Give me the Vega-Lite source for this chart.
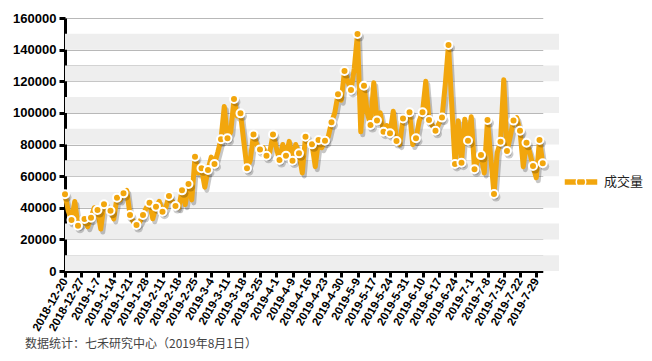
{
  "$schema": "https://vega.github.io/schema/vega-lite/v6.json",
  "width": 494,
  "height": 253,
  "autosize": {"type": "none"},
  "padding": {"left": 65, "top": 18, "right": 93, "bottom": 90},
  "background": "white",
  "title": {
    "text": "数据统计：七禾研究中心（2019年8月1日）",
    "orient": "bottom",
    "anchor": "start",
    "frame": "group",
    "dx": -40,
    "offset": 6,
    "font": "Noto Sans CJK SC",
    "fontSize": 12,
    "fontWeight": "normal",
    "color": "#444444"
  },
  "datasets": {
    "bands": [
      {"lo": 0, "hi": 10000}, {"lo": 20000, "hi": 30000}, {"lo": 40000, "hi": 50000},
      {"lo": 60000, "hi": 70000}, {"lo": 80000, "hi": 90000}, {"lo": 100000, "hi": 110000},
      {"lo": 120000, "hi": 130000}, {"lo": 140000, "hi": 150000}
    ]
  },
  "data": {
    "values": [
      {"date": "2018-12-20", "v": 48500}, {"date": "2018-12-21", "v": 38000}, {"date": "2018-12-24", "v": 32200}, {"date": "2018-12-25", "v": 44000}, {"date": "2018-12-26", "v": 28600},
      {"date": "2018-12-27", "v": 30000}, {"date": "2018-12-28", "v": 32900}, {"date": "2019-1-2", "v": 28000}, {"date": "2019-1-3", "v": 33700}, {"date": "2019-1-4", "v": 40000},
      {"date": "2019-1-7", "v": 38600}, {"date": "2019-1-8", "v": 26500}, {"date": "2019-1-9", "v": 42200}, {"date": "2019-1-10", "v": 40000}, {"date": "2019-1-11", "v": 38100},
      {"date": "2019-1-14", "v": 33000}, {"date": "2019-1-15", "v": 46400}, {"date": "2019-1-16", "v": 45000}, {"date": "2019-1-17", "v": 49100}, {"date": "2019-1-18", "v": 51000},
      {"date": "2019-1-21", "v": 35400}, {"date": "2019-1-22", "v": 31000}, {"date": "2019-1-23", "v": 29100}, {"date": "2019-1-24", "v": 31000}, {"date": "2019-1-25", "v": 35400},
      {"date": "2019-1-28", "v": 40000}, {"date": "2019-1-29", "v": 43200}, {"date": "2019-1-30", "v": 33000}, {"date": "2019-1-31", "v": 40700}, {"date": "2019-2-1", "v": 44000},
      {"date": "2019-2-11", "v": 37500}, {"date": "2019-2-12", "v": 40000}, {"date": "2019-2-13", "v": 47400}, {"date": "2019-2-14", "v": 44000}, {"date": "2019-2-15", "v": 41100},
      {"date": "2019-2-18", "v": 40000}, {"date": "2019-2-19", "v": 51000}, {"date": "2019-2-20", "v": 42000}, {"date": "2019-2-21", "v": 55000}, {"date": "2019-2-22", "v": 45000},
      {"date": "2019-2-25", "v": 72300}, {"date": "2019-2-26", "v": 62000}, {"date": "2019-2-27", "v": 65000}, {"date": "2019-2-28", "v": 53000}, {"date": "2019-3-1", "v": 63900},
      {"date": "2019-3-4", "v": 72000}, {"date": "2019-3-5", "v": 67700}, {"date": "2019-3-6", "v": 75000}, {"date": "2019-3-7", "v": 83300}, {"date": "2019-3-8", "v": 104000},
      {"date": "2019-3-11", "v": 83900}, {"date": "2019-3-12", "v": 88000}, {"date": "2019-3-13", "v": 108800}, {"date": "2019-3-14", "v": 98000}, {"date": "2019-3-15", "v": 99700},
      {"date": "2019-3-18", "v": 82000}, {"date": "2019-3-19", "v": 65000}, {"date": "2019-3-20", "v": 70000}, {"date": "2019-3-21", "v": 86400}, {"date": "2019-3-22", "v": 80000},
      {"date": "2019-3-25", "v": 76900}, {"date": "2019-3-26", "v": 78000}, {"date": "2019-3-27", "v": 72900}, {"date": "2019-3-28", "v": 75000}, {"date": "2019-3-29", "v": 86400},
      {"date": "2019-4-1", "v": 78000}, {"date": "2019-4-2", "v": 70200}, {"date": "2019-4-3", "v": 80000}, {"date": "2019-4-4", "v": 72900}, {"date": "2019-4-8", "v": 82000},
      {"date": "2019-4-9", "v": 69800}, {"date": "2019-4-10", "v": 80000}, {"date": "2019-4-11", "v": 74400}, {"date": "2019-4-12", "v": 62000}, {"date": "2019-4-15", "v": 84900},
      {"date": "2019-4-16", "v": 82000}, {"date": "2019-4-17", "v": 80100}, {"date": "2019-4-18", "v": 66000}, {"date": "2019-4-19", "v": 82800}, {"date": "2019-4-22", "v": 78000},
      {"date": "2019-4-23", "v": 82400}, {"date": "2019-4-24", "v": 85000}, {"date": "2019-4-25", "v": 94000}, {"date": "2019-4-26", "v": 100000}, {"date": "2019-4-29", "v": 111700},
      {"date": "2019-4-30", "v": 108000}, {"date": "2019-5-5", "v": 126500}, {"date": "2019-5-6", "v": 120000}, {"date": "2019-5-7", "v": 114500}, {"date": "2019-5-8", "v": 128000},
      {"date": "2019-5-9", "v": 149900}, {"date": "2019-5-10", "v": 88000}, {"date": "2019-5-13", "v": 117200}, {"date": "2019-5-14", "v": 100000}, {"date": "2019-5-16", "v": 92300},
      {"date": "2019-5-17", "v": 119000}, {"date": "2019-5-20", "v": 95100}, {"date": "2019-5-21", "v": 100000}, {"date": "2019-5-22", "v": 88100}, {"date": "2019-5-23", "v": 92000},
      {"date": "2019-5-24", "v": 87100}, {"date": "2019-5-27", "v": 101000}, {"date": "2019-5-28", "v": 82200}, {"date": "2019-5-29", "v": 80000}, {"date": "2019-5-30", "v": 96500},
      {"date": "2019-5-31", "v": 97000}, {"date": "2019-6-3", "v": 100400}, {"date": "2019-6-4", "v": 80000}, {"date": "2019-6-5", "v": 83900}, {"date": "2019-6-6", "v": 95000},
      {"date": "2019-6-10", "v": 100400}, {"date": "2019-6-11", "v": 120000}, {"date": "2019-6-12", "v": 95500}, {"date": "2019-6-13", "v": 92000}, {"date": "2019-6-14", "v": 88700},
      {"date": "2019-6-17", "v": 93000}, {"date": "2019-6-18", "v": 97000}, {"date": "2019-6-19", "v": 118000}, {"date": "2019-6-20", "v": 143000}, {"date": "2019-6-21", "v": 105000},
      {"date": "2019-6-24", "v": 67700}, {"date": "2019-6-25", "v": 95000}, {"date": "2019-6-26", "v": 68500}, {"date": "2019-6-27", "v": 96000}, {"date": "2019-6-28", "v": 82400},
      {"date": "2019-7-1", "v": 97500}, {"date": "2019-7-2", "v": 64300}, {"date": "2019-7-3", "v": 70000}, {"date": "2019-7-4", "v": 73300}, {"date": "2019-7-5", "v": 62000},
      {"date": "2019-7-8", "v": 95500}, {"date": "2019-7-9", "v": 72000}, {"date": "2019-7-10", "v": 48700}, {"date": "2019-7-11", "v": 75000}, {"date": "2019-7-12", "v": 81800},
      {"date": "2019-7-15", "v": 121000}, {"date": "2019-7-16", "v": 75900}, {"date": "2019-7-17", "v": 85000}, {"date": "2019-7-18", "v": 95100}, {"date": "2019-7-19", "v": 97000},
      {"date": "2019-7-22", "v": 88700}, {"date": "2019-7-23", "v": 66000}, {"date": "2019-7-24", "v": 81100}, {"date": "2019-7-25", "v": 75000}, {"date": "2019-7-26", "v": 66400},
      {"date": "2019-7-29", "v": 59000}, {"date": "2019-7-30", "v": 82800}, {"date": "2019-7-31", "v": 68100}
    ]
  },
  "transform": [{"window": [{"op": "row_number", "as": "rn"}]}],
  "layer": [
    {
      "data": {"name": "bands"},
      "mark": {"type": "rect", "color": "#eeeeee"},
      "encoding": {
        "y": {
          "field": "lo", "type": "quantitative", "title": null,
          "scale": {"domain": [0, 160000], "nice": false},
          "axis": {
            "values": [0, 10000, 20000, 30000, 40000, 50000, 60000, 70000, 80000, 90000, 100000, 110000, 120000, 130000, 140000, 150000, 160000],
            "format": "d",
            "labelExpr": "datum.value % 20000 === 0 ? datum.label : ''",
            "tickOpacity": {"condition": {"test": "datum.value % 20000 === 0", "value": 1}, "value": 0}
          }
        },
        "y2": {"field": "hi"}
      }
    },
    {
      "mark": {"type": "line", "color": "#000000", "opacity": 0.22, "strokeWidth": 5, "strokeJoin": "round", "xOffset": 2, "yOffset": 3},
      "encoding": {
        "x": {
          "field": "date", "type": "ordinal", "sort": null, "title": null,
          "axis": {"values": ["2018-12-20", "2018-12-27", "2019-1-7", "2019-1-14", "2019-1-21", "2019-1-28", "2019-2-11", "2019-2-18", "2019-2-25", "2019-3-4", "2019-3-11", "2019-3-18", "2019-3-25", "2019-4-1", "2019-4-9", "2019-4-16", "2019-4-23", "2019-4-30", "2019-5-9", "2019-5-17", "2019-5-24", "2019-5-31", "2019-6-10", "2019-6-17", "2019-6-24", "2019-7-1", "2019-7-8", "2019-7-15", "2019-7-22", "2019-7-29"]}
        },
        "y": {
          "field": "v", "type": "quantitative", "title": null,
          "axis": {
            "values": [0, 10000, 20000, 30000, 40000, 50000, 60000, 70000, 80000, 90000, 100000, 110000, 120000, 130000, 140000, 150000, 160000],
            "format": "d",
            "labelExpr": "datum.value % 20000 === 0 ? datum.label : ''",
            "tickOpacity": {"condition": {"test": "datum.value % 20000 === 0", "value": 1}, "value": 0}
          }
        }
      }
    },
    {
      "mark": {"type": "line", "color": "#F2A60D", "strokeWidth": 5, "strokeJoin": "round"},
      "encoding": {
        "x": {
          "field": "date", "type": "ordinal", "sort": null, "title": null,
          "scale": {"type": "point", "padding": 0, "range": [0, 477.75]},
          "axis": {"values": ["2018-12-20", "2018-12-27", "2019-1-7", "2019-1-14", "2019-1-21", "2019-1-28", "2019-2-11", "2019-2-18", "2019-2-25", "2019-3-4", "2019-3-11", "2019-3-18", "2019-3-25", "2019-4-1", "2019-4-9", "2019-4-16", "2019-4-23", "2019-4-30", "2019-5-9", "2019-5-17", "2019-5-24", "2019-5-31", "2019-6-10", "2019-6-17", "2019-6-24", "2019-7-1", "2019-7-8", "2019-7-15", "2019-7-22", "2019-7-29"]}
        },
        "y": {
          "field": "v", "type": "quantitative", "title": null,
          "axis": {
            "values": [0, 10000, 20000, 30000, 40000, 50000, 60000, 70000, 80000, 90000, 100000, 110000, 120000, 130000, 140000, 150000, 160000],
            "format": "d",
            "labelExpr": "datum.value % 20000 === 0 ? datum.label : ''",
            "tickOpacity": {"condition": {"test": "datum.value % 20000 === 0", "value": 1}, "value": 0}
          }
        }
      }
    },
    {
      "mark": {"type": "point", "filled": true, "size": 80, "color": "#000000", "xOffset": 2, "yOffset": 3},
      "encoding": {
        "x": {
          "field": "date", "type": "ordinal", "sort": null, "title": null,
          "axis": {"values": ["2018-12-20", "2018-12-27", "2019-1-7", "2019-1-14", "2019-1-21", "2019-1-28", "2019-2-11", "2019-2-18", "2019-2-25", "2019-3-4", "2019-3-11", "2019-3-18", "2019-3-25", "2019-4-1", "2019-4-9", "2019-4-16", "2019-4-23", "2019-4-30", "2019-5-9", "2019-5-17", "2019-5-24", "2019-5-31", "2019-6-10", "2019-6-17", "2019-6-24", "2019-7-1", "2019-7-8", "2019-7-15", "2019-7-22", "2019-7-29"]}
        },
        "y": {
          "field": "v", "type": "quantitative", "title": null,
          "axis": {
            "values": [0, 10000, 20000, 30000, 40000, 50000, 60000, 70000, 80000, 90000, 100000, 110000, 120000, 130000, 140000, 150000, 160000],
            "format": "d",
            "labelExpr": "datum.value % 20000 === 0 ? datum.label : ''",
            "tickOpacity": {"condition": {"test": "datum.value % 20000 === 0", "value": 1}, "value": 0}
          }
        },
        "opacity": {"condition": {"test": "datum.rn % 2 === 1 || datum.rn === 148", "value": 0.2}, "value": 0}
      }
    },
    {
      "mark": {"type": "point", "filled": true, "size": 64, "stroke": "#ffffff", "strokeWidth": 2},
      "encoding": {
        "x": {
          "field": "date", "type": "ordinal", "sort": null, "title": null,
          "axis": {"values": ["2018-12-20", "2018-12-27", "2019-1-7", "2019-1-14", "2019-1-21", "2019-1-28", "2019-2-11", "2019-2-18", "2019-2-25", "2019-3-4", "2019-3-11", "2019-3-18", "2019-3-25", "2019-4-1", "2019-4-9", "2019-4-16", "2019-4-23", "2019-4-30", "2019-5-9", "2019-5-17", "2019-5-24", "2019-5-31", "2019-6-10", "2019-6-17", "2019-6-24", "2019-7-1", "2019-7-8", "2019-7-15", "2019-7-22", "2019-7-29"]}
        },
        "y": {
          "field": "v", "type": "quantitative", "title": null,
          "axis": {
            "values": [0, 10000, 20000, 30000, 40000, 50000, 60000, 70000, 80000, 90000, 100000, 110000, 120000, 130000, 140000, 150000, 160000],
            "format": "d",
            "labelExpr": "datum.value % 20000 === 0 ? datum.label : ''",
            "tickOpacity": {"condition": {"test": "datum.value % 20000 === 0", "value": 1}, "value": 0}
          }
        },
        "opacity": {"condition": {"test": "datum.rn % 2 === 1 || datum.rn === 148", "value": 1}, "value": 0},
        "color": {
          "datum": "成交量",
          "scale": {"range": ["#F2A60D"]},
          "legend": {
            "title": null,
            "orient": "none",
            "legendX": 498,
            "legendY": 146,
            "padding": 0,
            "symbolType": "M-1,-0.2H1V0.2H-1Z M0.28,0A0.28,0.28,0,1,1,-0.28,0A0.28,0.28,0,1,1,0.28,0Z",
            "symbolSize": 1156,
            "symbolFillColor": "#F2A60D",
            "symbolStrokeColor": "#ffffff",
            "symbolStrokeWidth": 1.5,
            "symbolOpacity": 1,
            "labelFont": "Noto Sans CJK SC",
            "labelFontSize": 13,
            "labelColor": "#222222",
            "labelOffset": 5
          }
        }
      }
    }
  ],
  "config": {
    "view": {"stroke": null},
    "axisX": {
      "labelAngle": -60,
      "labelFont": "Liberation Sans",
      "labelFontSize": 11.5,
      "labelFontWeight": "bold",
      "labelColor": "#000000",
      "labelPadding": 2,
      "domainColor": "#000000",
      "domainWidth": 3,
      "tickColor": "#000000",
      "tickWidth": 3,
      "tickSize": 6,
      "grid": false
    },
    "axisY": {
      "labelFont": "Liberation Sans",
      "labelFontSize": 13,
      "labelFontWeight": "bold",
      "labelColor": "#000000",
      "labelPadding": 3,
      "domainColor": "#000000",
      "domainWidth": 3,
      "tickColor": "#000000",
      "tickWidth": 3,
      "tickSize": 6,
      "grid": true,
      "gridColor": "#b8b8b8",
      "gridWidth": 1.2
    }
  }
}
